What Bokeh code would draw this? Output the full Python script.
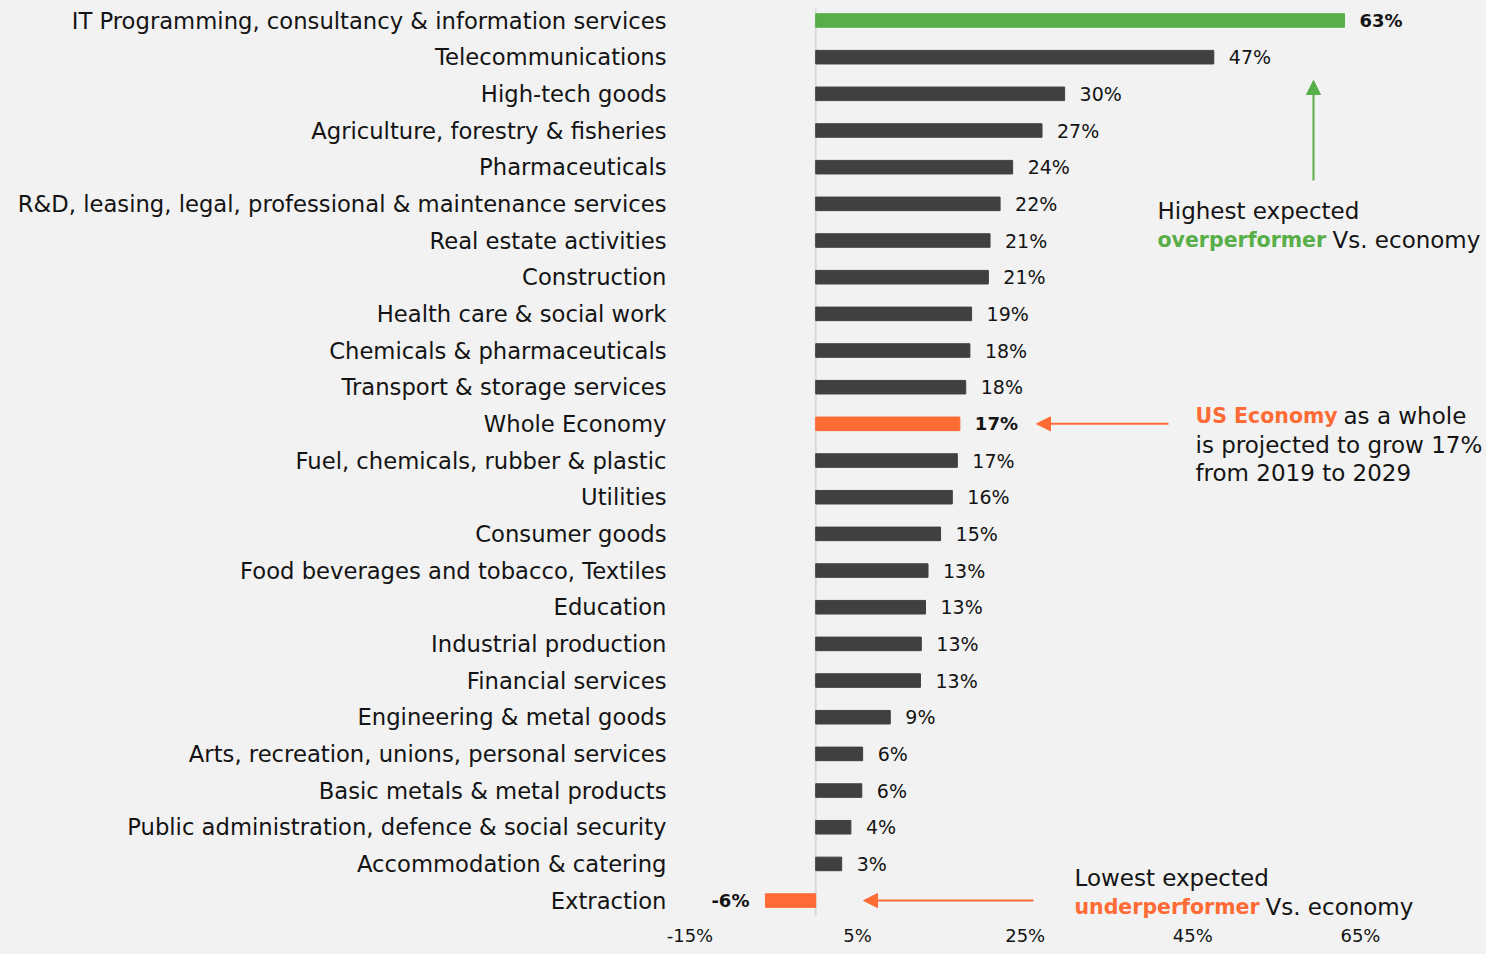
from bokeh.plotting import figure
from bokeh.models import Range1d, FixedTicker, Arrow, NormalHead, ColumnDataSource, Label
from bokeh.core.properties import value
from bokeh.embed import file_html
from bokeh.resources import INLINE

# ---------------- data ----------------
categories = [
    "IT Programming, consultancy & information services",
    "Telecommunications",
    "High-tech goods",
    "Agriculture, forestry & fisheries",
    "Pharmaceuticals",
    "R&D, leasing, legal, professional & maintenance services",
    "Real estate activities",
    "Construction",
    "Health care & social work",
    "Chemicals & pharmaceuticals",
    "Transport & storage services",
    "Whole Economy",
    "Fuel, chemicals, rubber & plastic",
    "Utilities",
    "Consumer goods",
    "Food beverages and tobacco, Textiles",
    "Education",
    "Industrial production",
    "Financial services",
    "Engineering & metal goods",
    "Arts, recreation, unions, personal services",
    "Basic metals & metal products",
    "Public administration, defence & social security",
    "Accommodation & catering",
    "Extraction",
]
growth = [63.1, 47.5, 29.7, 27.0, 23.5, 22.0, 20.8, 20.6, 18.6, 18.4, 17.9, 17.2,
          16.9, 16.3, 14.9, 13.4, 13.1, 12.6, 12.5, 8.9, 5.6, 5.5, 4.2, 3.1, -6.0]
growth_labels = ["63%", "47%", "30%", "27%", "24%", "22%", "21%", "21%", "19%", "18%",
                 "18%", "17%", "17%", "16%", "15%", "13%", "13%", "13%", "13%", "9%",
                 "6%", "6%", "4%", "3%", "-6%"]
x_ticks = [-15, 5, 25, 45, 65]
x_tick_labels = ["-15%", "5%", "25%", "45%", "65%"]

# ---------------- style ----------------
FONT = "DejaVu Sans"
BG = "#f2f2f2"
GREEN = "#58ae48"
ORANGE = "#ff6b35"
DARK = "#404040"
TEXT = "#141414"

W, H = 1486, 954
FRAME_BOTTOM = 922

# pixel helpers for annotation placement (page coordinates)
def X(px):
    return (px - 815.2) / 8.381

def Y(py):
    return (py - 20) / 36.67

idx = list(range(len(categories)))
whole_i = categories.index("Whole Economy")
max_i = growth.index(max(growth))
min_i = growth.index(min(growth))

colors = []
styles = []
sizes = []
for i in idx:
    if i == max_i:
        colors.append(GREEN)
    elif i in (whole_i, min_i):
        colors.append(ORANGE)
    else:
        colors.append(DARK)
    hl = i in (max_i, whole_i, min_i)
    styles.append("bold" if hl else "normal")
    sizes.append("18px" if hl else "19px")

src = ColumnDataSource(dict(
    cat=categories, y=idx, v=growth, lab=growth_labels, color=colors, style=styles,
    size=sizes,
    align=["right" if g < 0 else "left" for g in growth],
    xoff=[-16 if g < 0 else 15 for g in growth],
))

p = figure(width=W, height=H, output_backend="svg", toolbar_location=None,
           x_range=Range1d(X(0), X(W)), y_range=Range1d(Y(FRAME_BOTTOM), Y(0)),
           min_border_left=0, min_border_right=0, min_border_top=0,
           min_border_bottom=H - FRAME_BOTTOM, y_axis_location=None)
p.background_fill_color = BG
p.border_fill_color = BG
p.outline_line_color = None
p.grid.visible = False

# zero line
p.segment(x0=[0], x1=[0], y0=[Y(8)], y1=[Y(915)], line_color="#d9d9d9", line_width=2)

# bars
p.hbar(y="y", left=0, right="v", height=0.37, color="color", source=src)

# category labels
p.text(x=X(666), y="y", text="cat", source=src, text_font=value(FONT),
       text_font_size="22.7px", text_color=TEXT, text_align="right", text_baseline="middle")

# value labels
p.text(x="v", y="y", text="lab", source=src, x_offset="xoff", text_font=value(FONT),
       text_font_size="size", text_color=TEXT, text_align="align", text_baseline="middle",
       text_font_style="style")

# x axis
ax = p.xaxis[0]
ax.ticker = FixedTicker(ticks=x_ticks)
ax.major_label_overrides = {t: l for t, l in zip(x_ticks, x_tick_labels)}
ax.axis_line_color = None
ax.major_tick_line_color = None
ax.minor_tick_line_color = None
ax.major_tick_out = 0
ax.major_tick_in = 0
ax.major_label_standoff = 2
ax.major_label_text_font = FONT
ax.major_label_text_font_size = "18px"
ax.major_label_text_color = TEXT

# ---------------- annotations ----------------
def txt(x, y, s, color=TEXT, bold=False):
    p.add_layout(Label(x=x, y=y, text=s, text_font=FONT,
                       text_font_size="20.5px" if bold else "23px",
                       text_color=color, text_font_style="bold" if bold else "normal",
                       text_align="left", text_baseline="middle"))

# green arrow (highest)
p.add_layout(Arrow(end=NormalHead(size=14, fill_color=GREEN, line_color=GREEN),
                   x_start=X(1313), y_start=Y(180), x_end=X(1313), y_end=Y(80),
                   line_color=GREEN, line_width=2))
txt(X(1157), Y(210), "Highest expected")
txt(X(1157), Y(239), "overperformer", GREEN, True)
txt(X(1332), Y(239), "Vs. economy")

# orange arrow (whole economy)
p.add_layout(Arrow(end=NormalHead(size=14, fill_color=ORANGE, line_color=ORANGE),
                   x_start=X(1168), y_start=whole_i, x_end=X(1036), y_end=whole_i,
                   line_color=ORANGE, line_width=2))
txt(X(1195), Y(415), "US Economy", ORANGE, True)
txt(X(1343), Y(415), "as a whole")
txt(X(1195), Y(444), "is projected to grow 17%")
txt(X(1195), Y(472), "from 2019 to 2029")

# orange arrow (lowest)
p.add_layout(Arrow(end=NormalHead(size=14, fill_color=ORANGE, line_color=ORANGE),
                   x_start=X(1033), y_start=min_i, x_end=X(863), y_end=min_i,
                   line_color=ORANGE, line_width=2))
txt(X(1074), Y(877), "Lowest expected")
txt(X(1074), Y(906), "underperformer", ORANGE, True)
txt(X(1265), Y(906), "Vs. economy")

html = file_html(p, INLINE)
html = html.replace("</head>", "<style>html,body{background:#f2f2f2 !important;}</style></head>", 1)
open("out.html", "w").write(html)
